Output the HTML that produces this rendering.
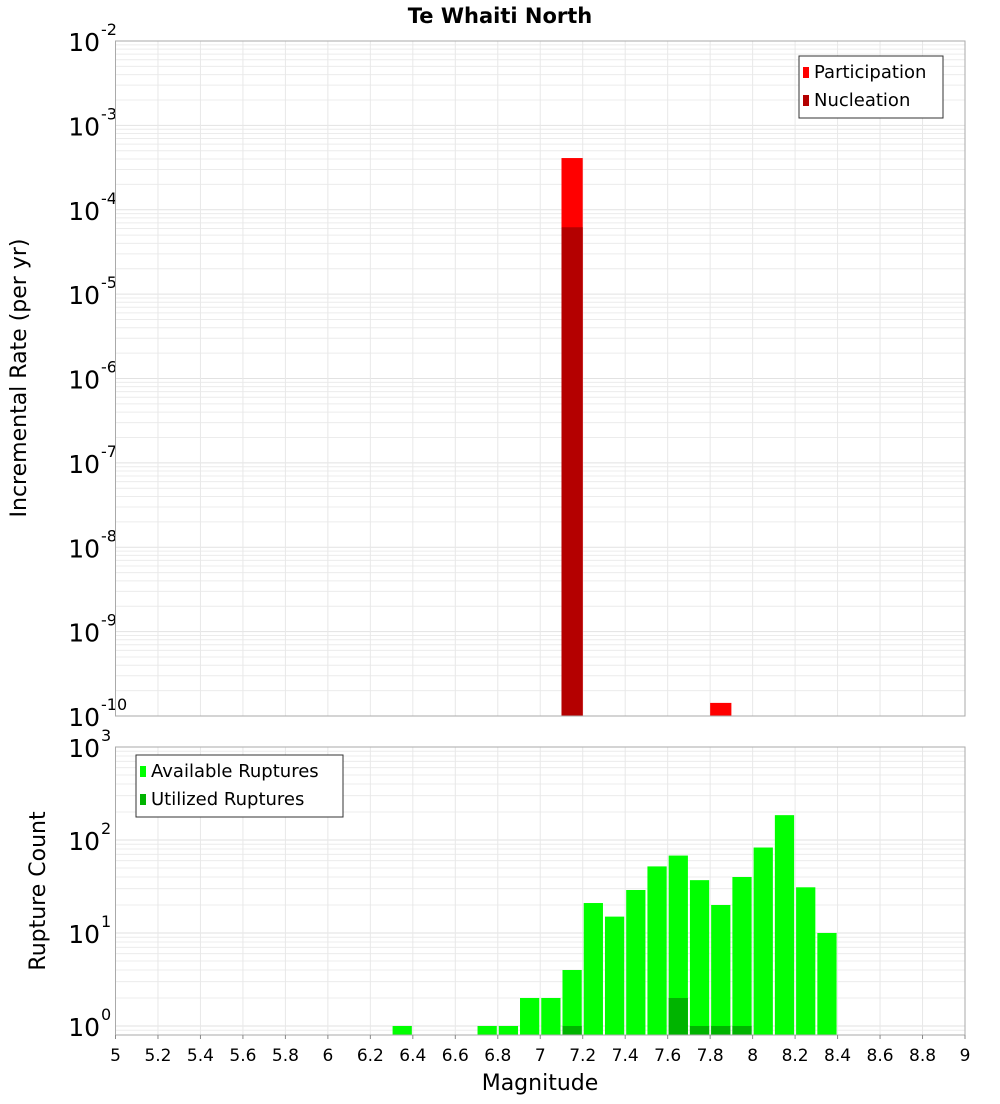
<!DOCTYPE html>
<html><head><meta charset="utf-8">
<style>
body{margin:0;background:#fff;font-family:"DejaVu Sans","Liberation Sans",sans-serif;}
svg text{font-family:"DejaVu Sans","Liberation Sans",sans-serif;}
</style></head>
<body>
<svg id="chart" width="1000" height="1100" xmlns="http://www.w3.org/2000/svg">
<text x="500" y="23" text-anchor="middle" font-size="21" font-weight="bold">Te Whaiti North</text>
</svg>
<script>
const topBins=[7.15,7.85];
const participation=[4.1e-4,1.43e-10];
const nucleationBins=[7.15];
const nucleation=[6.2e-5];
const countBins=[6.35,6.75,6.85,6.95,7.05,7.15,7.25,7.35,7.45,7.55,7.65,7.75,7.85,7.95,8.05,8.15,8.25,8.35];
const available=[1,1,1,2,2,4,21,15,29,52,68,37,20,40,83,185,31,10];
const utilBins=[7.15,7.65,7.75,7.85,7.95];
const utilized=[1,2,1,1,1];
const xTicks=[5,5.2,5.4,5.6,5.8,6,6.2,6.4,6.6,6.8,7,7.2,7.4,7.6,7.8,8,8.2,8.4,8.6,8.8,9];
const topExp=[-10,-9,-8,-7,-6,-5,-4,-3,-2];
const botExp=[0,1,2,3];

const NS="http://www.w3.org/2000/svg";
const svg=document.getElementById('chart');
const L=115.5,R=965;
const X=m=>L+(m-5)/4*(R-L);
const T={top:41,bot:716,min:-10,max:-2};
const B={top:747,bot:1035,min:Math.log10(0.8),max:3};
const Y=(p,v)=>p.bot-(Math.log10(v)-p.min)/(p.max-p.min)*(p.bot-p.top);
function el(tag,attrs,parent){const e=document.createElementNS(NS,tag);for(const k in attrs)e.setAttribute(k,attrs[k]);(parent||svg).appendChild(e);return e;}

function panel(p,exps,name){
  const g=el('g',{});
  
  
  el('rect',{x:L,y:p.top,width:R-L,height:p.bot-p.top,fill:'#fff'},g);
  for(let e=Math.floor(p.min);e<p.max;e++){
    for(let k=1;k<10;k++){const v=k*Math.pow(10,e);const y=Y(p,v);
      if(y<p.top-0.1||y>p.bot+0.1)continue;
      el('line',{x1:L,x2:R,y1:y,y2:y,stroke:k==1?'#e2e2e2':'#ececec','stroke-width':1},g);}
  }
  xTicks.forEach(t=>{const x=X(t);el('line',{x1:x,x2:x,y1:p.top,y2:p.bot,stroke:'#e8e8e8'},g);});
  exps.forEach(e=>{const y=Y(p,Math.pow(10,e));
    const t=el('text',{x:100,y:y+10,'text-anchor':'end','font-size':25},g);
    
    
    t.textContent='10';
    const s=el('text',{x:101,y:y-6,'font-size':16},g);s.textContent=String(e);
  });
  return g;
}
const gt=panel(T,topExp,'top');
const gb=panel(B,botExp,'bottom');

const w=(R-L)/40;
function bar(g,m,v,p,fill,gap,nm){
  const x=X(m)-w/2,y=Y(p,v);
  const r=el('rect',{x:x+gap,y:y,width:w-2*gap,height:p.bot-y,fill:fill},g);
  
  
}
topBins.forEach((m,i)=>bar(gt,m,participation[i],T,'#ff0000',0,'participation-bar'));
nucleationBins.forEach((m,i)=>bar(gt,m,nucleation[i],T,'#b40000',0,'nucleation-bar'));
countBins.forEach((m,i)=>bar(gb,m,available[i],B,'#00ff00',1,'available-bar'));
utilBins.forEach((m,i)=>bar(gb,m,utilized[i],B,'#00b400',1,'utilized-bar'));

el('rect',{x:L,y:T.top,width:R-L,height:T.bot-T.top,fill:'none',stroke:'#aaa'});
el('rect',{x:L,y:B.top,width:R-L,height:B.bot-B.top,fill:'none',stroke:'#aaa'});

xTicks.forEach(t=>{const x=X(t);
  el('line',{x1:x,x2:x,y1:B.bot,y2:B.bot+4,stroke:'#888'});
  const tx=el('text',{x:x,y:1061,'text-anchor':'middle','font-size':17});
  
  
  tx.textContent=String(t);});

function legend(x,y,wd,items,nm){
  const g=el('g',{});
  
  
  el('rect',{x:x,y:y,width:wd,height:62,fill:'#fff',stroke:'#333'},g);
  items.forEach((it,i)=>{
    el('rect',{x:x+4,y:y+11+i*28,width:6,height:11,fill:it[1]},g);
    const t=el('text',{x:x+15,y:y+22+i*28,'font-size':18},g);
    
    
    t.textContent=it[0];
  });
}
legend(799,56,144,[['Participation','#ff0000'],['Nucleation','#b40000']],'top-legend');
legend(136,755,207,[['Available Ruptures','#00ff00'],['Utilized Ruptures','#00b400']],'bottom-legend');

const yt=el('text',{x:0,y:0,'text-anchor':'middle','font-size':22,transform:'translate(26,378) rotate(-90)'});


yt.textContent='Incremental Rate (per yr)';
const yb=el('text',{x:0,y:0,'text-anchor':'middle','font-size':22,transform:'translate(45,891) rotate(-90)'});


yb.textContent='Rupture Count';
const xt=el('text',{x:540,y:1090,'text-anchor':'middle','font-size':22});


xt.textContent='Magnitude';
</script>
</body></html>
